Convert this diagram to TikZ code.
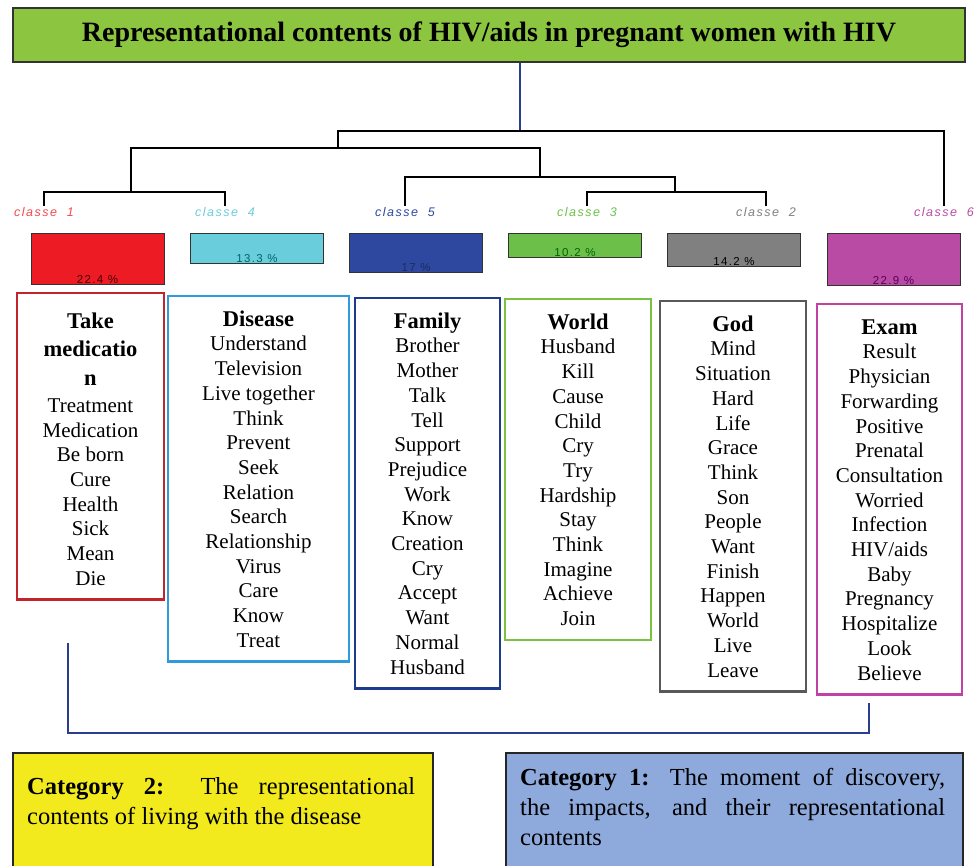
\documentclass[tikz,border=0pt]{standalone}
\usepackage{fontspec}
\setmainfont{Liberation Serif}
\newfontfamily\classfont[LetterSpace=12]{Liberation Sans}
\usetikzlibrary{positioning}

\definecolor{titlegreen}{HTML}{8CC540}
\definecolor{linkblue}{HTML}{2B3D91}
\definecolor{catyellow}{HTML}{F2EA1C}
\definecolor{catblue}{HTML}{8EA9DB}
% class colours
\definecolor{cred}{HTML}{ED1C24}
\definecolor{ccyan}{HTML}{6ACDDC}
\definecolor{cnavy}{HTML}{2E48A0}
\definecolor{cgreen}{HTML}{6CC04A}
\definecolor{cgray}{HTML}{808080}
\definecolor{cmag}{HTML}{B94BA5}
% box borders
\definecolor{bred}{HTML}{C3242B}
\definecolor{bcyan}{HTML}{2F9CD9}
\definecolor{bnavy}{HTML}{1D3C8F}
\definecolor{bgreen}{HTML}{7BC142}
\definecolor{bgray}{HTML}{58595B}
\definecolor{bmag}{HTML}{C241A5}

\newcommand{\hd}[2][16pt]{{\fontsize{22.5}{26}\selectfont\bfseries\rule{0pt}{#1}#2}}

\begin{document}
\begin{tikzpicture}[
  x=1pt, y=-1pt,
  tree/.style={draw=black, line width=1.3pt},
  titlebox/.style={draw=black!80, fill=titlegreen, line width=1.5pt, minimum width=952pt, minimum height=54pt, font=\bfseries\fontsize{28}{32}\selectfont},
  classlabel/.style={font=\classfont\itshape\fontsize{12.5}{14}\selectfont, inner sep=1pt},
  bar/.style={draw=black!80, line width=1pt, anchor=north, minimum width=133pt, inner sep=0pt},
  pct/.style={font=\classfont\fontsize{11.5}{12}\selectfont, anchor=south, inner sep=1.5pt},
  wordbox/.style={draw=#1, line width=2.5pt, anchor=north, align=center, inner ysep=14pt, font=\fontsize{21}{24.7}\selectfont},
  catbox/.style={draw=black!85, line width=1.5pt, anchor=north west, inner sep=0pt, minimum height=140pt},
  cattext/.style={anchor=north west, align=left, inner sep=0pt, font=\fontsize{24.5}{30}\selectfont}
]
\useasboundingbox (0,0) rectangle (978,866);

% Title
\node[titlebox] (title) at (489,35) {Representational contents of HIV/aids in pregnant women with HIV};

% Class labels
\node[classlabel, text=cred!80] (cl1) at (44,212) {classe\ \ 1};
\node[classlabel, text=ccyan] (cl4) at (225,212) {classe\ \ 4};
\node[classlabel, text=cnavy] (cl5) at (405,212) {classe\ \ 5};
\node[classlabel, text=cgreen] (cl3) at (587,212) {classe\ \ 3};
\node[classlabel, text=cgray] (cl2) at (766,212) {classe\ \ 2};
\node[classlabel, text=cmag] (cl6) at (944,212) {classe\ \ 6};

% Dendrogram junctions
\coordinate (root) at (520,131);
\coordinate (jA) at (338,148);
\coordinate (jB) at (131,192);
\coordinate (jC) at (540,177);
\coordinate (jD) at (675,192);

\draw[linkblue, line width=1.5pt] (title.south -| root) -- (root);
\draw[tree] (jA) |- (root) -| (cl6.north);
\draw[tree] (jB) |- (jA) -| (jC);
\draw[tree] (cl1.north) |- (jB) -| (cl4.north);
\draw[tree] (cl5.north) |- (jC) -| (jD);
\draw[tree] (cl3.north) |- (jD) -| (cl2.north);

% Percentage bars
\node[bar, fill=cred, minimum height=51pt] (bar1) at (97.5,233) {};
\node[bar, fill=ccyan, minimum height=30pt] (bar4) at (257,233) {};
\node[bar, fill=cnavy, minimum height=39pt] (bar5) at (416,233) {};
\node[bar, fill=cgreen, minimum height=24pt] (bar3) at (575,233) {};
\node[bar, fill=cgray, minimum height=33pt] (bar2) at (734,233) {};
\node[bar, fill=cmag, minimum height=52pt] (bar6) at (893.5,233) {};

\node[pct, text=black!75!red] (pct1) at (bar1.south) {22.4 \%};
\node[pct, text=teal!80!black] (pct4) at (bar4.south) {13.3 \%};
\node[pct, text=cnavy!60!black] (pct5) at (bar5.south) {17 \%};
\node[pct, text=green!40!black] (pct3) at (bar3.south) {10.2 \%};
\node[pct, text=black] (pct2) at (bar2.south) {14.2 \%};
\node[pct, text=violet!70!black] (pct6) at (bar6.south) {22.9 \%};

% Word boxes
\node[wordbox=bred, minimum width=147pt] (words1) at (90.5,292) {\hd[21pt]{Take}\\[4pt]\hd{medicatio}\\[4pt]\hd{n}\\[2pt]Treatment\\Medication\\Be born\\Cure\\Health\\Sick\\Mean\\Die};
\node[wordbox=bcyan, minimum width=181pt] (words4) at (258.5,295) {\hd{Disease}\\Understand\\Television\\Live together\\Think\\Prevent\\Seek\\Relation\\Search\\Relationship\\Virus\\Care\\Know\\Treat};
\node[wordbox=bnavy, minimum width=145pt] (words5) at (427.5,297) {\hd{Family}\\Brother\\Mother\\Talk\\Tell\\Support\\Prejudice\\Work\\Know\\Creation\\Cry\\Accept\\Want\\Normal\\Husband};
\node[wordbox=bgreen, minimum width=146pt] (words3) at (578,298) {\hd{World}\\Husband\\Kill\\Cause\\Child\\Cry\\Try\\Hardship\\Stay\\Think\\Imagine\\Achieve\\Join};
\node[wordbox=bgray, minimum width=146pt] (words2) at (733,300) {\hd{God}\\Mind\\Situation\\Hard\\Life\\Grace\\Think\\Son\\People\\Want\\Finish\\Happen\\World\\Live\\Leave};
\node[wordbox=bmag, minimum width=145pt] (words6) at (889.5,303) {\hd{Exam}\\Result\\Physician\\Forwarding\\Positive\\Prenatal\\Consultation\\Worried\\Infection\\HIV/aids\\Baby\\Pregnancy\\Hospitalize\\Look\\Believe};

% Bracket joining the two groups
\coordinate (brL) at (68,643);
\coordinate (brB) at (68,733);
\coordinate (brR) at (869,703);
\draw[linkblue, line width=1.8pt] (brL) -- (brB) -| (brR);

% Categories
\node[catbox, fill=catyellow, minimum width=420pt] (cat2) at (12,752) {};
\node[catbox, fill=catblue, minimum width=457pt] (cat1) at (505,752) {};
\node[cattext] (cat2txt) at (27,777) {\makebox[388pt][s]{\textbf{Category 2:} The representational}\\contents of living with the disease};
\node[cattext] (cat1txt) at (520,768) {\makebox[425pt][s]{\textbf{Category 1:} The moment of discovery,}\\\makebox[425pt][s]{the impacts, and their representational}\\contents};

\end{tikzpicture}
\end{document}
